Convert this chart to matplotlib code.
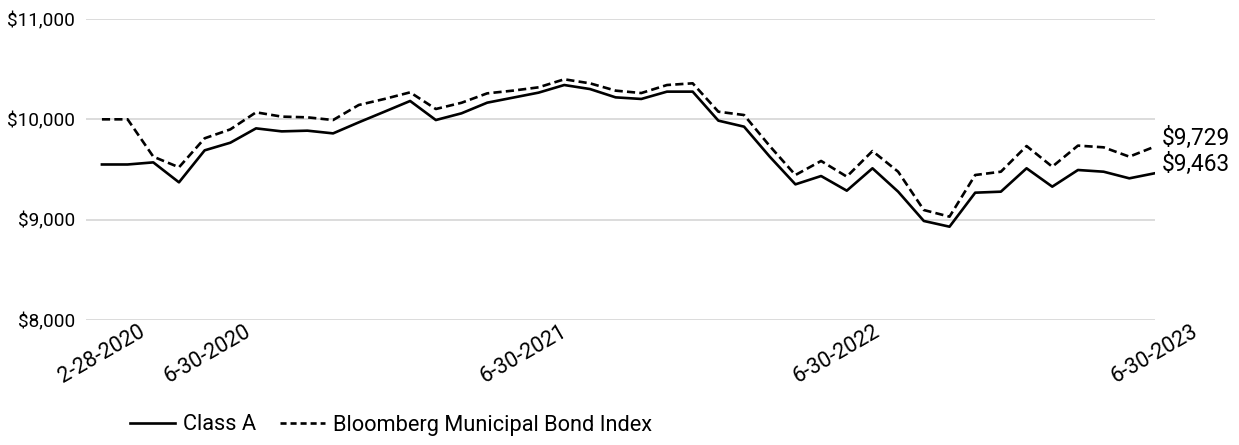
import matplotlib
matplotlib.use("Agg")
import matplotlib.pyplot as plt
from matplotlib.lines import Line2D

plt.rcParams["font.family"] = ["Roboto", "DejaVu Sans"]

# month-end values, 2-28-2020 (start) through 6-30-2023
class_a = [9550, 9550, 9571, 9372, 9691, 9767, 9910, 9880, 9887, 9860,
           9970, 10076, 10183, 9993, 10060, 10166, 10216, 10266, 10342, 10302,
           10219, 10203, 10276, 10276, 9987, 9927, 9628, 9352, 9435, 9289,
           9512, 9279, 8987, 8930, 9269, 9279, 9512, 9329, 9495, 9478,
           9412, 9463]
bloomberg = [10000, 10000, 9628, 9522, 9811, 9900, 10070, 10027, 10020, 9993,
             10143, 10203, 10269, 10103, 10165, 10259, 10286, 10319, 10399, 10359,
             10286, 10262, 10342, 10359, 10076, 10043, 9734, 9445, 9585, 9429,
             9684, 9478, 9096, 9030, 9445, 9478, 9734, 9528, 9738, 9721,
             9628, 9729]
tick_labels = ["2-28-2020", "6-30-2020", "6-30-2021", "6-30-2022", "6-30-2023"]
y_ticks = [8000, 9000, 10000, 11000]
end_labels = ["$9,463", "$9,729"]

fig = plt.figure(figsize=(12.39, 4.45), dpi=100)
ax = fig.add_axes([86 / 1239, 125 / 445, 1069 / 1239, 301 / 445])

x = list(range(len(class_a)))
ax.plot(x, class_a, color="black", linewidth=1.9)
ln, = ax.plot(x, bloomberg, color="black", linewidth=1.9, linestyle="--")
ln.set_dashes([3.1, 1.6])

ax.set_xlim(-0.62, 41)
ax.set_ylim(8000, 11000)
ax.set_yticks(y_ticks)
ax.set_yticklabels(["${:,}".format(v) for v in y_ticks])
ax.grid(axis="y", color="#d9d9d9", linewidth=1.3)
ax.set_axisbelow(True)
for s in ax.spines.values():
    s.set_visible(False)

# label spots as placed in the original layout
ax.set_xticks([0, 4.1, 16.4, 28.6, 41])
ax.set_xticklabels(tick_labels, rotation=30, ha="center")
ax.tick_params(axis="both", length=0, colors="black")
ax.tick_params(axis="y", pad=8, labelsize=13.7)
ax.tick_params(axis="x", pad=1, labelsize=15.5)

ax.annotate(end_labels[0], (x[-1], class_a[-1]), xytext=(7, 9),
            textcoords="offset pixels", ha="left", va="center",
            fontsize=16.3, annotation_clip=False)
ax.annotate(end_labels[1], (x[-1], bloomberg[-1]), xytext=(7, 8),
            textcoords="offset pixels", ha="left", va="center",
            fontsize=16.3, annotation_clip=False)

handles = [Line2D([], [], color="black", linewidth=1.9),
           Line2D([], [], color="black", linewidth=1.9, linestyle="--", dashes=[2.3, 1.5])]
fig.legend(handles, ["Class A", "Bloomberg Municipal Bond Index"],
           loc="center left", bbox_to_anchor=(130 / 1239, 1 - 425 / 445),
           frameon=False, fontsize=15.7, handlelength=2.06, handletextpad=0.37,
           columnspacing=1.1, ncol=2, borderpad=0, borderaxespad=0)

fig.savefig("out.png", dpi=100)
